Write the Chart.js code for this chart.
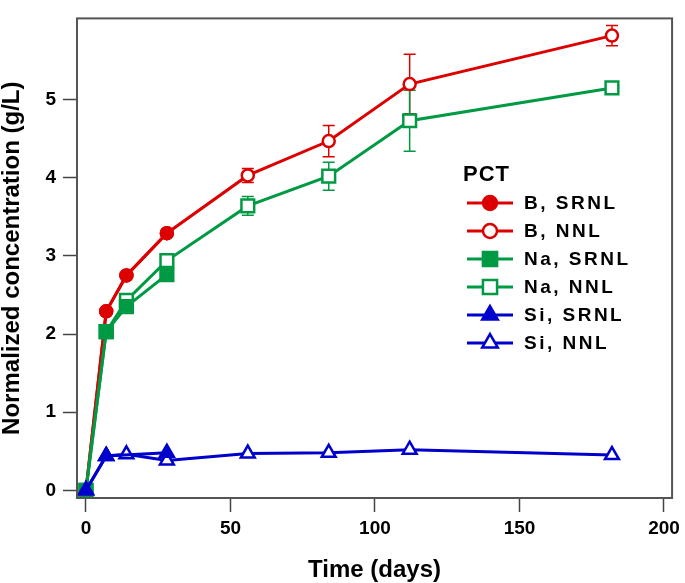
<!DOCTYPE html>
<html>
<head>
<meta charset="utf-8">
<script src="https://cdn.jsdelivr.net/npm/chart.js@4"></script>
<style>
  html, body { margin: 0; padding: 0; background: #fff; }
  #wrap { width: 685px; height: 583px; }
</style>
</head>
<body>
<div id="wrap"><canvas id="pct"></canvas></div>
<script>
// sampling times (days)
const daysSRNL = [0, 7, 14, 28];
const daysNNL = [0, 7, 14, 28, 56, 84, 112, 182];

// normalized concentrations (g/L)
const bSRNL = [0, 2.29, 2.75, 3.29];
const bNNL = [0, 2.29, 2.75, 3.29, 4.03, 4.47, 5.20, 5.82];
const bNNLErr = [0, 0, 0, 0, 0.09, 0.20, 0.38, 0.13];
const naSRNL = [0, 2.03, 2.35, 2.76];
const naNNL = [0, 2.03, 2.43, 2.94, 3.64, 4.02, 4.73, 5.15];
const naNNLErr = [0, 0, 0, 0, 0.12, 0.18, 0.39, 0];
const siSRNL = [0, 0.44, null, 0.48];
const siNNL = [0, 0.44, 0.46, 0.38, 0.47, 0.48, 0.52, 0.45];

const xTicks = [0, 50, 100, 150, 200];
const yTicks = [0, 1, 2, 3, 4, 5];
const legendTitle = 'PCT';

const RED = '#dc0000', GREEN = '#009944', BLUE = '#0000cc';
const FONT = '"Liberation Sans", Arial, sans-serif';

function pts(days, vals) {
    return days.map((d, i) => ({ x: d, y: vals[i] }));
}

function series(label, days, vals, color, style, filled, radius, order, err) {
    return {
        label: label,
        data: pts(days, vals),
        err: err,
        borderColor: color,
        backgroundColor: filled ? color : '#fff',
        pointBackgroundColor: filled ? color : '#fff',
        pointBorderColor: color,
        pointStyle: style,
        pointRadius: radius,
        pointBorderWidth: 2.5,
        borderWidth: 3,
        spanGaps: true,
        order: order
    };
}

const datasets = [
    series('B, SRNL', daysSRNL, bSRNL, RED, 'circle', true, 6, 4),
    series('B, NNL', daysNNL, bNNL, RED, 'circle', false, 6, 5, bNNLErr),
    series('Na, SRNL', daysSRNL, naSRNL, GREEN, 'rect', true, 9, 2),
    series('Na, NNL', daysNNL, naNNL, GREEN, 'rect', false, 9, 3, naNNLErr),
    series('Si, SRNL', daysSRNL, siSRNL, BLUE, 'triangle', true, 8, 0),
    series('Si, NNL', daysNNL, siNNL, BLUE, 'triangle', false, 8, 1)
];

// error bars drawn behind the markers
const errorBars = {
    id: 'errorBars',
    beforeDatasetsDraw(chart) {
        const ctx = chart.ctx, xs = chart.scales.x, ys = chart.scales.y;
        chart.data.datasets.forEach(ds => {
            if (!ds.err) return;
            ctx.save();
            ctx.strokeStyle = ds.borderColor;
            ctx.lineWidth = 1.5;
            ds.data.forEach((p, i) => {
                const e = ds.err[i];
                if (!e || p.y == null) return;
                const x = xs.getPixelForValue(p.x);
                const y1 = ys.getPixelForValue(p.y + e);
                const y2 = ys.getPixelForValue(p.y - e);
                ctx.beginPath();
                ctx.moveTo(x, y1); ctx.lineTo(x, y2);
                ctx.moveTo(x - 6, y1); ctx.lineTo(x + 6, y1);
                ctx.moveTo(x - 6, y2); ctx.lineTo(x + 6, y2);
                ctx.stroke();
            });
            ctx.restore();
        });
    }
};

// box around the plot area
const frame = {
    id: 'frame',
    afterDraw(chart) {
        const a = chart.chartArea, ctx = chart.ctx;
        ctx.save();
        ctx.strokeStyle = '#555';
        ctx.lineWidth = 2;
        ctx.strokeRect(a.left, a.top, a.right - a.left, a.bottom - a.top);
        ctx.restore();
    }
};

// legend inside the plot, right side
const pctLegend = {
    id: 'pctLegend',
    afterDraw(chart) {
        const ctx = chart.ctx;
        ctx.save();
        ctx.fillStyle = '#000';
        ctx.textBaseline = 'middle';
        ctx.textAlign = 'left';
        ctx.font = 'bold 22px ' + FONT;
        ctx.letterSpacing = '1px';
        ctx.fillText(legendTitle, 463, 175);
        chart.data.datasets.forEach((ds, i) => {
            const y = 203 + i * 28;
            ctx.strokeStyle = ds.borderColor;
            ctx.lineWidth = 3;
            ctx.beginPath();
            ctx.moveTo(467, y); ctx.lineTo(513, y);
            ctx.stroke();
            ctx.fillStyle = ds.pointBackgroundColor;
            ctx.strokeStyle = ds.pointBorderColor;
            ctx.lineWidth = 2.5;
            Chart.helpers.drawPoint(ctx, {
                pointStyle: ds.pointStyle,
                radius: ds.pointRadius + 1,
                borderWidth: 2.5,
                rotation: 0
            }, 490, y);
            ctx.fillStyle = '#000';
            ctx.font = 'bold 19px ' + FONT;
            ctx.letterSpacing = '2.5px';
            ctx.fillText(ds.label, 524, y + 1);
        });
        ctx.restore();
    }
};

new Chart(document.getElementById('pct'), {
    type: 'line',
    data: { datasets: datasets },
    plugins: [errorBars, frame, pctLegend],
    options: {
        responsive: true,
        maintainAspectRatio: false,
        animation: false,
        layout: { padding: { left: 0, top: 2, right: 12, bottom: 0 } },
        plugins: { legend: { display: false }, tooltip: { enabled: false } },
        scales: {
            x: {
                type: 'linear',
                min: -3.1,
                max: 202.8,
                afterBuildTicks: s => { s.ticks = xTicks.map(v => ({ value: v })); },
                afterFit: s => { s.height = 85; },
                grid: { drawOnChartArea: false, drawTicks: true, tickLength: 14, tickColor: '#444', tickWidth: 1.5 },
                border: { display: false },
                ticks: { color: '#000', padding: 5, maxRotation: 0, font: { family: FONT, size: 19, weight: 'bold' } },
                title: { display: true, text: 'Time (days)', color: '#000', padding: { top: 0, bottom: 1 },
                         font: { family: FONT, size: 24, weight: 'bold', lineHeight: 1 } }
            },
            y: {
                type: 'linear',
                min: -0.099,
                max: 6.04,
                afterBuildTicks: s => { s.ticks = yTicks.map(v => ({ value: v })); },
                afterFit: s => { s.width = 77; },
                grid: { drawOnChartArea: false, drawTicks: true, tickLength: 14, tickColor: '#444', tickWidth: 1.5 },
                border: { display: false },
                ticks: { color: '#000', padding: 7, font: { family: FONT, size: 19, weight: 'bold' } },
                title: { display: true, text: 'Normalized concentration (g/L)', color: '#000', padding: { top: 0, bottom: 0 },
                         font: { family: FONT, size: 24, weight: 'bold', lineHeight: 1 } }
            }
        }
    }
});
</script>
</body>
</html>
